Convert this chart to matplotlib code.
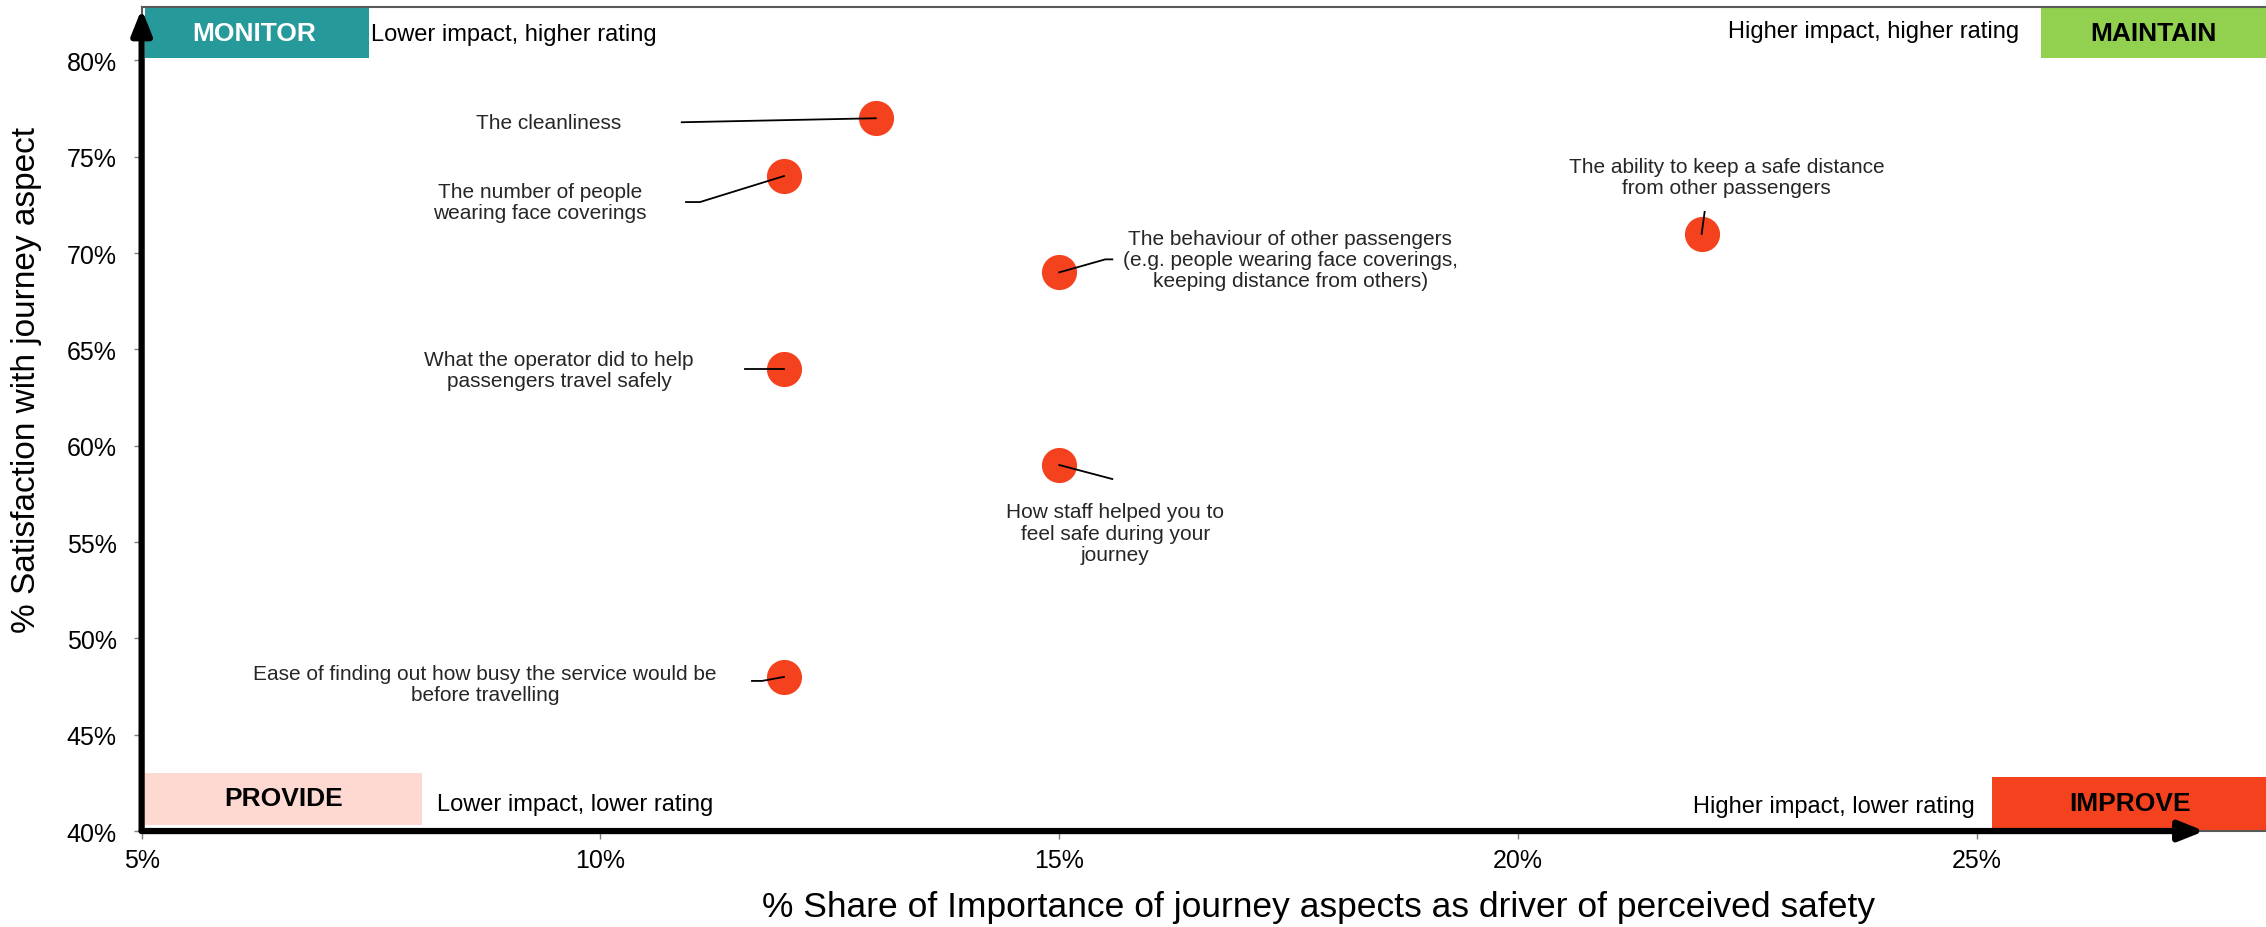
import matplotlib
matplotlib.use("Agg")
import matplotlib.pyplot as plt
from matplotlib.patches import Rectangle
import matplotlib.transforms as mtransforms
from matplotlib.ticker import FuncFormatter

plt.rcParams['font.family'] = ['Liberation Sans', 'DejaVu Sans']

# Journey aspects: share of importance (%) vs satisfaction (%)
aspects = [
    "The cleanliness",
    "The number of people\nwearing face coverings",
    "The behaviour of other passengers\n(e.g. people wearing face coverings,\nkeeping distance from others)",
    "The ability to keep a safe distance\nfrom other passengers",
    "What the operator did to help\npassengers travel safely",
    "How staff helped you to\nfeel safe during your\njourney",
    "Ease of finding out how busy the service would be\nbefore travelling",
]
importance = [13, 12, 15, 22, 12, 15, 12]
satisfaction = [77, 74, 69, 71, 64, 59, 48]

x_ticks = [5, 10, 15, 20, 25]
y_ticks = [40, 45, 50, 55, 60, 65, 70, 75, 80]

# label placement (pixel offsets from each point) and leader line vertices
label_offsets = [(-327, -4), (-244, -26), (231, 13), (25, 57), (-225, -1), (56, -68), (-299, -7)]
leader_lines = [
    [(-194, -4), (0, 0)],
    [(-98, -26), (-84, -26), (0, 0)],
    [(0, 0), (46, 13), (53, 13)],
    [(0, 0), (3, 22)],
    [(-39, 0), (0, 0)],
    [(0, 0), (53, -14)],
    [(-32, -4), (-22, -4), (0, 0)],
]

POINT_COLOR = "#F4421F"
TEXT_COLOR = "#262626"

fig = plt.figure(figsize=(22.66, 9.28), dpi=100)
ax = fig.add_axes([0.0625, 0.1034, 0.9375, 0.8885])
ax.set_xlim(5, 28.15)
ax.set_ylim(40, 82.8)

ax.scatter(importance, satisfaction, s=640, color=POINT_COLOR, zorder=4, linewidths=0)

for xv, yv, lab, (dx, dy), line in zip(importance, satisfaction, aspects, label_offsets, leader_lines):
    ax.annotate(lab, xy=(xv, yv), xytext=(dx, dy), textcoords='offset pixels',
                ha='center', va='center', fontsize=15, color=TEXT_COLOR,
                linespacing=1.15, zorder=5)
    trans = mtransforms.Affine2D() + mtransforms.ScaledTranslation(xv, yv, ax.transData)
    lx, ly = zip(*line)
    ax.plot(lx, ly, color='black', lw=1.3, transform=trans, zorder=5, clip_on=False)

# quadrant boxes
boxes = [
    ((0.0014, 0.937), 0.1056, 0.063, "#26999B", "MONITOR", "white", (0.053, 0.968)),
    ((0.894, 0.937), 0.106, 0.063, "#92D050", "MAINTAIN", "black", (0.947, 0.968)),
    ((0.0014, 0.007), 0.1306, 0.063, "#FDD9D2", "PROVIDE", "black", (0.0667, 0.040)),
    ((0.871, 0.0), 0.129, 0.065, "#F4421F", "IMPROVE", "black", (0.936, 0.034)),
]
for (bx, by), bw, bh, fc, txt, tc, (tx, ty) in boxes:
    ax.add_patch(Rectangle((bx, by), bw, bh, transform=ax.transAxes, facecolor=fc,
                           edgecolor='none', zorder=2, clip_on=False))
    ax.text(tx, ty, txt, transform=ax.transAxes, ha='center', va='center',
            fontsize=19, fontweight='bold', color=tc, zorder=3)

ax.text(0.108, 0.967, "Lower impact, higher rating", transform=ax.transAxes,
        ha='left', va='center', fontsize=17, color='black')
ax.text(0.884, 0.970, "Higher impact, higher rating", transform=ax.transAxes,
        ha='right', va='center', fontsize=17, color='black')
ax.text(0.139, 0.033, "Lower impact, lower rating", transform=ax.transAxes,
        ha='left', va='center', fontsize=17, color='black')
ax.text(0.863, 0.030, "Higher impact, lower rating", transform=ax.transAxes,
        ha='right', va='center', fontsize=17, color='black')

# axis arrows
ax.annotate('', xy=(0, 0.997), xytext=(0, 0), xycoords='axes fraction',
            arrowprops=dict(arrowstyle='-|>,head_length=1.5,head_width=0.6', lw=4.5,
                            color='black', shrinkA=0, shrinkB=0), zorder=6)
ax.annotate('', xy=(0.971, 0), xytext=(0, 0), xycoords='axes fraction',
            arrowprops=dict(arrowstyle='-|>,head_length=1.5,head_width=0.6', lw=4.5,
                            color='black', shrinkA=0, shrinkB=0), zorder=6)

for side in ['left', 'bottom', 'top']:
    ax.spines[side].set_color('#595959')
    ax.spines[side].set_linewidth(1.5)
ax.spines['right'].set_visible(False)

ax.set_xticks(x_ticks)
ax.set_yticks(y_ticks)
pct = FuncFormatter(lambda v, p: f"{v:.0f}%")
ax.xaxis.set_major_formatter(pct)
ax.yaxis.set_major_formatter(pct)
ax.tick_params(axis='both', labelsize=18, colors='#7f7f7f', labelcolor='black',
               length=6, width=1, direction='out')
ax.tick_params(axis='x', pad=6)
ax.tick_params(axis='y', pad=12)

fig.text(0.582, 0.022, "% Share of Importance of journey aspects as driver of perceived safety",
         ha='center', va='center', fontsize=25.5, color='black')
fig.text(0.0115, 0.59, "% Satisfaction with journey aspect", rotation=90,
         ha='center', va='center', fontsize=24, color='black')

fig.savefig("out.png", dpi=100)
